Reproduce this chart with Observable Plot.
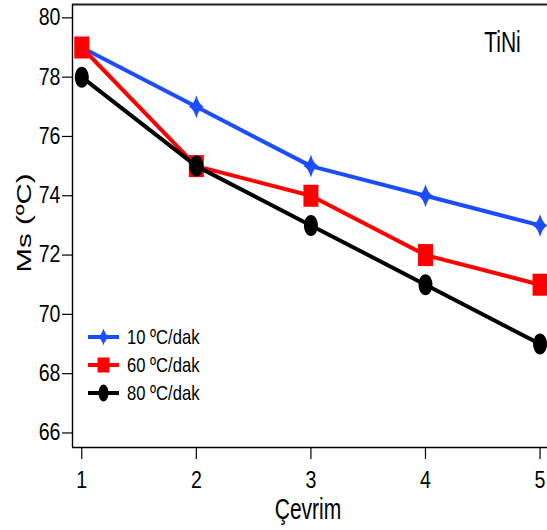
<!DOCTYPE html>
<html><head><meta charset="utf-8">
<script src="https://cdn.jsdelivr.net/npm/d3@7"></script>
<script src="https://cdn.jsdelivr.net/npm/@observablehq/plot@0.6"></script>
<style>
body{margin:0;background:#fff;}
#wrap{position:relative;width:547px;height:530px;overflow:hidden;}
</style></head><body><div id="wrap"></div>
<script>
// ---- data ----
const cycles = [1, 2, 3, 4, 5];
const seriesNames = ["10 ºC/dak", "60 ºC/dak", "80 ºC/dak"];
const ms10 = [79, 77, 75, 74, 73];
const ms60 = [79, 75, 74, 72, 71];
const ms80 = [78, 75, 73, 71, 69];
const yTicks = [66, 68, 70, 72, 74, 76, 78, 80];
const xTicks = [1, 2, 3, 4, 5];
const yLabel = "Ms (ºC)";
const xLabel = "Çevrim";
const annotation = "TiNi";
const colors = ["#1b4cff", "#ff0000", "#000000"];

// ---- styling helpers ----
const sans = "'Liberation Sans',Arial,sans-serif";
const xDomain = [0.919, 5.065];
const yDomain = [65.51, 80.45];

function starSym(w, h, k) {
  return {draw(ctx) {
    ctx.moveTo(0, -h);
    ctx.quadraticCurveTo(k * 0.4, -k * 0.4, w, 0);
    ctx.quadraticCurveTo(k * 0.4, k * 0.4, 0, h);
    ctx.quadraticCurveTo(-k * 0.4, k * 0.4, -w, 0);
    ctx.quadraticCurveTo(-k * 0.4, -k * 0.4, 0, -h);
    ctx.closePath();
  }};
}
function rectSym(w, h) {
  return {draw(ctx) { ctx.rect(-w, -h, 2 * w, 2 * h); }};
}
function ellipseSym(rx, ry) {
  const c = 0.5523;
  return {draw(ctx) {
    ctx.moveTo(rx, 0);
    ctx.bezierCurveTo(rx, c * ry, c * rx, ry, 0, ry);
    ctx.bezierCurveTo(-c * rx, ry, -rx, c * ry, -rx, 0);
    ctx.bezierCurveTo(-rx, -c * ry, -c * rx, -ry, 0, -ry);
    ctx.bezierCurveTo(c * rx, -ry, rx, -c * ry, rx, 0);
    ctx.closePath();
  }};
}
const plotSymbols = [starSym(7.5, 11.5, 6), rectSym(7.5, 11), ellipseSym(7, 10.5)];
const legendSymbols = [starSym(5.5, 8.5, 5), rectSym(6, 7.5), ellipseSym(5, 8.5)];

const seriesValues = [ms10, ms60, ms80];
const seriesRows = seriesValues.map((vals, s) => cycles.map((c, i) => ({cycle: c, ms: vals[i], series: seriesNames[s]})));

const seriesMarks = seriesRows.flatMap((rows, s) => [
  Plot.line(rows, {x: "cycle", y: "ms", stroke: colors[s], strokeWidth: 4}),
  Plot.dot(rows, {x: "cycle", y: "ms", symbol: plotSymbols[s], r: 10, fill: colors[s], stroke: "none"})
]);

const chart = Plot.plot({
  width: 547,
  height: 530,
  marginTop: 4,
  marginLeft: 72,
  marginRight: 0,
  marginBottom: 83,
  style: {fontFamily: sans, fontSize: "23px", color: "#000", background: "#fff", overflow: "hidden"},
  x: {domain: xDomain},
  y: {domain: yDomain},
  marks: [
    Plot.axisY(yTicks, {tickSize: 10, tickPadding: 2, label: null, strokeWidth: 1.2, fontSize: 23}),
    Plot.axisX(xTicks, {tickSize: 12, tickPadding: 12, label: null, strokeWidth: 1.2, fontSize: 23, tickFormat: d => String(d)}),
    Plot.ruleY([yDomain[0]], {stroke: "#000", strokeWidth: 1.6}),
    Plot.ruleY([yDomain[1]], {stroke: "#222", strokeWidth: 2}),
    Plot.ruleX([xDomain[0]], {stroke: "#000", strokeWidth: 1.4}),
    ...seriesMarks,
    Plot.text([annotation], {frameAnchor: "top-right", text: d => d, textAnchor: "middle", lineAnchor: "middle", dx: -45, dy: 38, fontSize: 30, fill: "#000"}),
    Plot.text([xLabel], {frameAnchor: "bottom", text: d => d, textAnchor: "middle", lineAnchor: "middle", dx: -2, dy: 62, fontSize: 30, fill: "#000"}),
    Plot.text([yLabel], {frameAnchor: "left", text: d => d, textAnchor: "middle", lineAnchor: "middle", rotate: -90, dx: -48, dy: -3, fontSize: 21, fill: "#000"})
  ]
});

document.getElementById("wrap").appendChild(chart);

// ---- legend (inside the plot area, lower left) ----
const lg = d3.select(chart).append("g").attr("class", "legend");
const rowY = [337, 365, 393];
seriesNames.forEach((name, s) => {
  const g = lg.append("g").attr("transform", `translate(0,${rowY[s]})`);
  g.append("line").attr("x1", 88).attr("x2", 119).attr("y1", 0).attr("y2", 0)
    .attr("stroke", colors[s]).attr("stroke-width", 4);
  g.append("path").attr("transform", "translate(103.5,0)")
    .attr("d", d3.symbol(legendSymbols[s], 64)()).attr("fill", colors[s]);
  g.append("text").attr("class", "lgtext").attr("x", 127).attr("y", 0).attr("dy", "0.35em")
    .attr("text-anchor", "start").attr("font-size", 21).attr("fill", "#000").text(name);
});

// emulate the reference's tall, condensed lettering
d3.select(chart).selectAll("text").each(function () {
  if (!this.textContent) return;
  const len = this.getComputedTextLength();
  if (this.textContent === yLabel) {
    d3.select(this).attr("textLength", 99).attr("lengthAdjust", "spacingAndGlyphs");
  } else {
    const f = this.classList.contains("lgtext") ? 0.79 : (/^\d+$/.test(this.textContent) ? 0.85 : 0.7);
    d3.select(this).attr("textLength", len * f).attr("lengthAdjust", "spacingAndGlyphs");
  }
});
</script>
</body></html>
